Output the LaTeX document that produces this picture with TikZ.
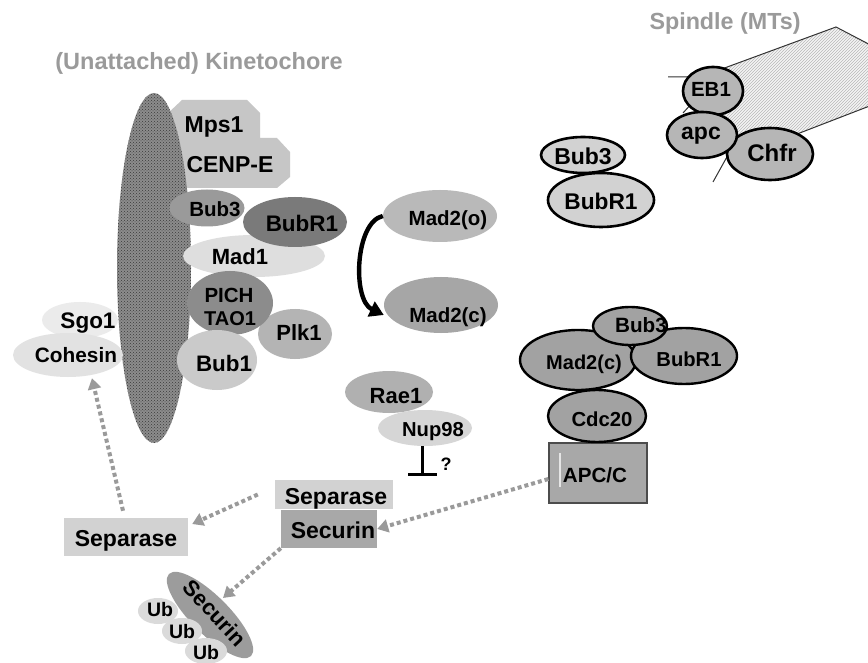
\documentclass[tikz,border=0pt]{standalone}
\usepackage{fontspec}
\setmainfont{Liberation Sans}
\usetikzlibrary{shapes.geometric,arrows.meta,patterns}
\definecolor{ctitle}{HTML}{9A9A9A}
\definecolor{cmps}{HTML}{C6C6C6}
\definecolor{ckin}{HTML}{8C8C8C}
\definecolor{ckindot}{HTML}{3A3A3A}
\definecolor{cbubthree}{HTML}{9A9A9A}
\definecolor{cbubrL}{HTML}{7A7A7A}
\definecolor{cmadone}{HTML}{DEDEDE}
\definecolor{cpich}{HTML}{8C8C8C}
\definecolor{cplk}{HTML}{B4B4B4}
\definecolor{cbubone}{HTML}{CACACA}
\definecolor{csgo}{HTML}{EBEBEB}
\definecolor{ccoh}{HTML}{E2E2E2}
\definecolor{cmadO}{HTML}{B9B9B9}
\definecolor{cmadC}{HTML}{A6A6A6}
\definecolor{crae}{HTML}{B0B0B0}
\definecolor{cnup}{HTML}{D6D6D6}
\definecolor{csep}{HTML}{D2D2D2}
\definecolor{csec}{HTML}{A8A8A8}
\definecolor{csecD}{HTML}{9C9C9C}
\definecolor{cub}{HTML}{DADADA}
\definecolor{cfree}{HTML}{D2D2D2}
\definecolor{cspin}{HTML}{B6B6B6}
\definecolor{ccplx}{HTML}{A2A2A2}
\definecolor{capcc}{HTML}{A8A8A8}
\definecolor{carrow}{HTML}{9A9A9A}
\definecolor{cspfill}{HTML}{F4F4F4}
\definecolor{csphatch}{HTML}{B8B8B8}
\definecolor{cspline}{HTML}{333333}
\tikzset{
  lbl/.style={font=\bfseries\fontsize{#1}{#1}\selectfont, inner sep=0pt, anchor=base},
  lbl/.default=21,
  blob/.style={ellipse, inner sep=0pt, fill=#1},
  sz/.style 2 args={minimum width=#1pt, minimum height=#2pt},
  ring/.style={draw=black, line width=2.6pt},
  pbox/.style={rectangle, inner sep=0pt, fill=#1},
  dotarrow/.style={draw=carrow, line width=4pt, dash pattern=on 4pt off 3pt,
     -{Triangle[length=11pt,width=13pt,fill=carrow]}},
}
\begin{document}
\begin{tikzpicture}[x=1pt,y=-1pt]
\useasboundingbox (0,0) rectangle (868,663);
\clip (0,0) rectangle (868,663);
\fill[white] (0,0) rectangle (868,663);

% titles
\node[lbl=23.5, text=ctitle] (kintitle) at (199,70) {(Unattached) Kinetochore};
\node[lbl=23.3, text=ctitle] (spintitle) at (725,30) {Spindle (MTs)};

% Mps1 / CENP-E block
\fill[cmps] (165,116) -- (182,100) -- (247,100) -- (260,113) -- (260,138) -- (277,138)
  -- (290,152) -- (290,177) -- (277,188) -- (160,188) -- cycle;

% kinetochore
\node[ellipse, inner sep=0pt, sz={74}{350}, preaction={fill=ckin},
      pattern=crosshatch dots, pattern color=ckindot] (kin) at (154,268) {};

% kinetochore proteins
\node[blob=cmadone, sz={142}{42}] (mad1) at (254,256) {};
\node[blob=cbubrL, sz={104}{50}] (bubr1L) at (295,222) {};
\node[blob=cbubthree, sz={75}{37}] (bub3L) at (207,208) {};
\node[blob=cplk, sz={74}{50}] (plk1) at (295,334) {};
\node[blob=cpich, sz={86}{64}] (pich) at (230,303) {};
\node[blob=cbubone, sz={80}{60}] (bub1) at (217,360) {};
\node[blob=csgo, sz={76}{36}] (sgo1) at (80,320) {};
\node[blob=ccoh, sz={110}{44}] (cohesin) at (68,355) {};

\node[lbl=23] (mps1t) at (214,133) {Mps1};
\node[lbl=23] (cenpet) at (230,173) {CENP-E};
\node[lbl=20.5] (bub3Lt) at (215,217) {Bub3};
\node[lbl=22.5] (bubr1Lt) at (302,232) {BubR1};
\node[lbl=22] (mad1t) at (240,265) {Mad1};
\node[lbl=20.5] (picht) at (229,302) {PICH};
\node[lbl=20] (tao1t) at (230,326) {TAO1};
\node[lbl=22] (plk1t) at (299,341) {Plk1};
\node[lbl=22.4] (bub1t) at (224,371) {Bub1};
\node[lbl=22.5] (sgo1t) at (88,328) {Sgo1};
\node[lbl=20.8] (cohesint) at (76,362) {Cohesin};

% Mad2 conversion
\node[blob=cmadO, sz={114}{52}] (mad2o) at (440,216) {};
\node[blob=cmadC, sz={114}{56}] (mad2c) at (441,305) {};
\node[lbl=20.5] (mad2ot) at (448,226) {Mad2(o)};
\node[lbl=20.5] (mad2ct) at (448,323) {Mad2(c)};
\draw[line width=4.4pt, -{Triangle[length=14pt,width=16pt]}]
  (mad2o.west) .. controls (355,222) and (352,300) .. ([yshift=-10pt]mad2c.west);

% Rae1 / Nup98
\node[blob=crae, sz={88}{42}] (rae1) at (389,392) {};
\node[blob=cnup, sz={94}{36}] (nup98) at (425,428) {};
\node[lbl=22] (rae1t) at (396,403) {Rae1};
\node[lbl=20.2] (nup98t) at (433,436) {Nup98};
\coordinate (inhib) at (422,476);
\draw[line width=3pt, -{Bar[width=29pt]}] (nup98.south -| inhib) -- (inhib);
\node[lbl=18] (qmark) at (446,470) {?};

% Separase / Securin
\node[pbox=csep, minimum width=118pt, minimum height=29pt] (sepR) at (334,494.5) {};
\node[pbox=csec, minimum width=96pt, minimum height=38pt] (secR) at (329,529) {};
\node[pbox=csep, minimum width=124pt, minimum height=38pt] (sepL) at (126,537) {};
\node[lbl=23] (sepRt) at (336,504) {Separase};
\node[lbl=23] (secRt) at (333,538) {Securin};
\node[lbl=23] (sepLt) at (126,546) {Separase};

% degraded securin
\node[blob=csecD, sz={116}{38}, rotate=-45] (secD) at (210,615) {};
\node[blob=cub, sz={40}{26}] (ub1) at (158,611) {};
\node[blob=cub, sz={40}{26}] (ub2) at (182,631) {};
\node[blob=cub, sz={42}{26}] (ub3) at (206,651) {};
\node[lbl=22, anchor=center, rotate=-47] (secDt) at (215,613) {Securin};
\node[lbl=19.5] (ub1t) at (160,616) {Ub};
\node[lbl=19.5] (ub2t) at (182,638) {Ub};
\node[lbl=19.5] (ub3t) at (206,659) {Ub};

% free Bub3 / BubR1
\node[blob=cfree, ring, sz={106}{54}] (bubr1F) at (601,200) {};
\node[blob=cfree, ring, sz={84}{36}] (bub3F) at (583,155) {};
\node[lbl=23] (bub3Ft) at (583,165) {Bub3};
\node[lbl=22.7] (bubr1Ft) at (601,210) {BubR1};

% spindle
\path[preaction={fill=cspfill}, pattern=north east lines, pattern color=csphatch]
  (700,77) -- (836,27) -- (880,50) -- (880,102) -- (735,158) -- (700,110) -- cycle;
\draw[cspline, line width=1pt] (668,77) -- (700,77) -- (836,27) -- (880,50);
\draw[cspline, line width=1pt] (880,102) -- (735,158);
\draw[cspline, line width=1pt] (683,113) -- (693,102);
\draw[cspline, line width=1pt] (728,155) -- (713,182);
\node[blob=cspin, ring, sz={86}{52}] (chfr) at (770,154) {};
\node[blob=cspin, ring, sz={60}{48}] (eb1) at (713,91) {};
\node[blob=cspin, ring, sz={70}{46}] (apcS) at (702,135) {};
\node[lbl=20.5] (eb1t) at (711,97) {EB1};
\node[lbl=23] (apcSt) at (701,140) {apc};
\node[lbl=24] (chfrt) at (772,162) {Chfr};

% MCC + APC/C
\node[pbox=capcc, draw=black!70, line width=1.2pt, minimum width=98pt, minimum height=60pt] (apcc) at (598,473) {};
\draw[white!80!gray, line width=1.5pt] (560,453) -- (560,487);
\node[blob=ccplx, ring, line width=2.4pt, sz={116}{60}] (mad2cR) at (578,360) {};
\node[blob=ccplx, ring, line width=2.4pt, sz={106}{56}] (bubr1R) at (684,356) {};
\node[blob=ccplx, ring, line width=2.4pt, sz={74}{38}] (bub3R) at (630,326) {};
\node[blob=ccplx, ring, line width=2.4pt, sz={98}{52}] (cdc20) at (597,416) {};
\node[lbl=20.7] (bub3Rt) at (641,332) {Bub3};
\node[lbl=20] (mad2cRt) at (584,369) {Mad2(c)};
\node[lbl=20.2] (bubr1Rt) at (689,366) {BubR1};
\node[lbl=20.3] (cdc20t) at (602,426) {Cdc20};
\node[lbl=20.6] (apcct) at (595,482) {APC/C};

% dotted arrows
\draw[dotarrow] ([xshift=-3pt,yshift=7pt]sepL.north) -- ([xshift=24pt,yshift=-1pt]cohesin.south);
\draw[dotarrow] ([xshift=-17pt]sepR.west) -- ([xshift=4pt,yshift=13pt]sepL.east);
\draw[dotarrow] (secR.south west) -- ([shift={(13pt,17pt)}]secD.center);
\draw[dotarrow] ([yshift=-6pt]apcc.west) -- (secR.east);
\end{tikzpicture}
\end{document}
